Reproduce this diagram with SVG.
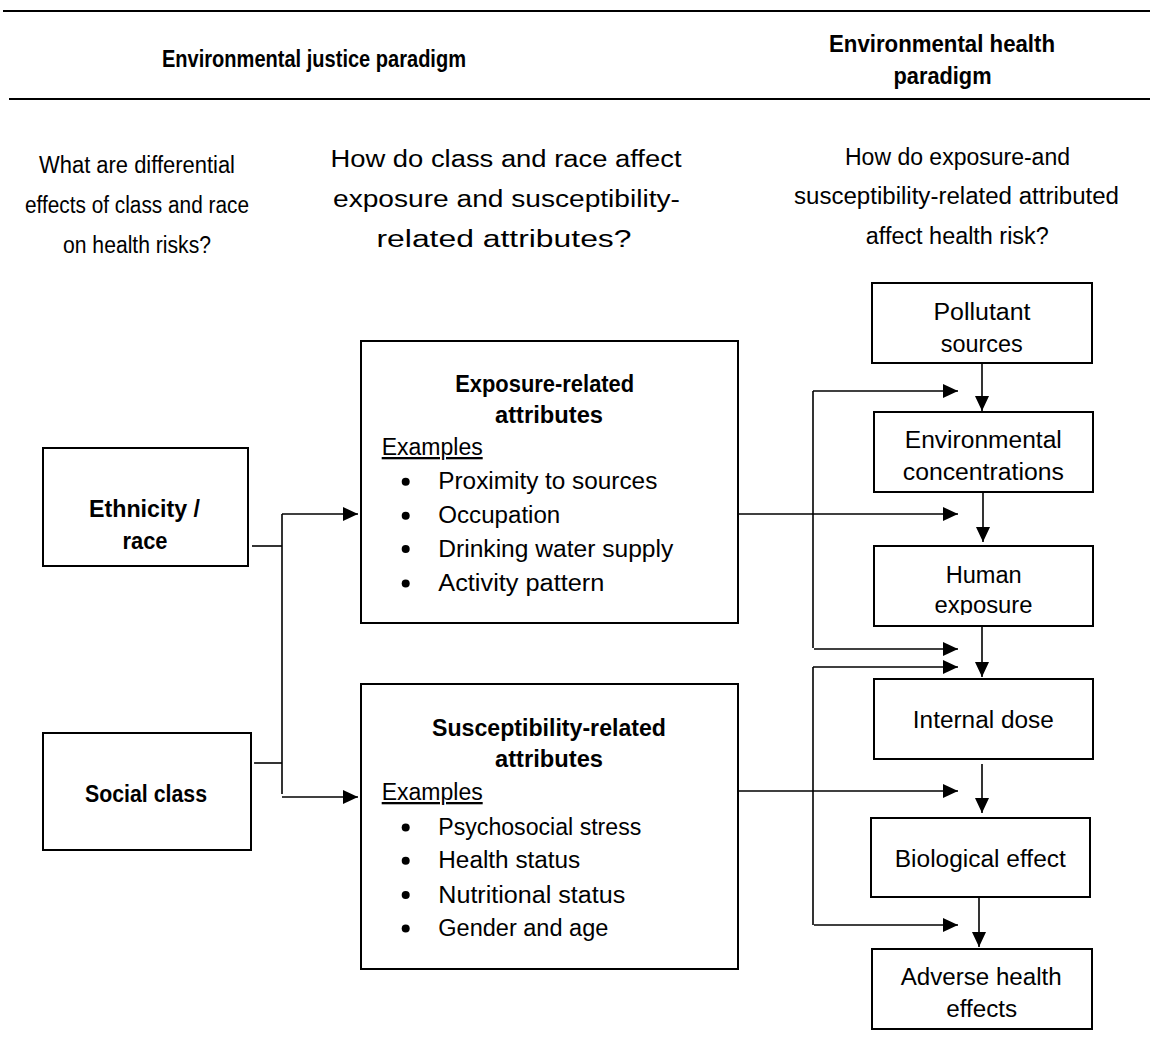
<svg xmlns="http://www.w3.org/2000/svg" width="1150" height="1063" viewBox="0 0 1150 1063">
<style>
  .t { font-family: "Liberation Sans", Arial, sans-serif; font-size: 23px; fill: #000; }
  .b { font-family: "Liberation Sans", Arial, sans-serif; font-size: 23px; font-weight: bold; fill: #000; }
  .m { text-anchor: middle; }
  .box { fill: #fff; stroke: #000; stroke-width: 2; }
  .rule { stroke: #000; stroke-width: 2; fill: none; }
  .c { stroke: #000; stroke-width: 1.6; fill: none; }
  .a { marker-end: url(#arr); }
  .u { text-decoration: underline; }
</style>
<defs>
  <marker id="arr" markerUnits="userSpaceOnUse" markerWidth="16" markerHeight="14" refX="15" refY="7" orient="auto">
    <path d="M0,0 L15,7 L0,14 z" fill="#000"/>
  </marker>
  <clipPath id="humanClip"><rect x="874" y="546" width="219" height="69"/></clipPath>
</defs>
<rect x="0" y="0" width="1150" height="1063" fill="#fff"/>

<g id="header">
  <line class="rule" x1="3" y1="11" x2="1150" y2="11"/>
  <line class="rule" x1="9" y1="99" x2="1150" y2="99"/>
  <text class="b m" x="314" y="67" textLength="304" lengthAdjust="spacingAndGlyphs">Environmental justice paradigm</text>
  <text class="b m" x="942" y="52" textLength="226" lengthAdjust="spacingAndGlyphs">Environmental health</text>
  <text class="b m" x="942.5" y="83.5" textLength="98" lengthAdjust="spacingAndGlyphs">paradigm</text>
</g>

<g id="questions">
  <text class="t m" x="137" y="173" textLength="196" lengthAdjust="spacingAndGlyphs">What are differential</text>
  <text class="t m" x="137" y="213" textLength="224" lengthAdjust="spacingAndGlyphs">effects of class and race</text>
  <text class="t m" x="137" y="253" textLength="148" lengthAdjust="spacingAndGlyphs">on health risks?</text>
  <text class="t m" x="506" y="167" textLength="351" lengthAdjust="spacingAndGlyphs">How do class and race affect</text>
  <text class="t m" x="506.5" y="207" textLength="347" lengthAdjust="spacingAndGlyphs">exposure and susceptibility-</text>
  <text class="t m" x="504" y="247" textLength="255" lengthAdjust="spacingAndGlyphs">related attributes?</text>
  <text class="t m" x="957.5" y="165" textLength="225" lengthAdjust="spacingAndGlyphs">How do exposure-and</text>
  <text class="t m" x="956.5" y="203.5" textLength="325" lengthAdjust="spacingAndGlyphs">susceptibility-related attributed</text>
  <text class="t m" x="957.3" y="243.5" textLength="183" lengthAdjust="spacingAndGlyphs">affect health risk?</text>
</g>

<g id="connectors">
  <path class="c" d="M252,546 H282"/>
  <path class="c" d="M254,763 H282"/>
  <path class="c" d="M282,514 V794"/>
  <path class="c a" d="M282,514 H358"/>
  <path class="c a" d="M282,797 H358"/>

  <path class="c" d="M813,391 V648"/>
  <path class="c a" d="M813,391 H958"/>
  <path class="c a" d="M739,514 H958"/>
  <path class="c a" d="M814,649 H958"/>
  <path class="c" d="M813,667 V925"/>
  <path class="c a" d="M813,667 H958"/>
  <path class="c a" d="M735,791 H958"/>
  <path class="c a" d="M814,925 H958"/>

  <path class="c a" d="M982,363 V411"/>
  <path class="c a" d="M983,493 V542"/>
  <path class="c a" d="M982,627 V677"/>
  <path class="c a" d="M982,764 V813"/>
  <path class="c a" d="M979,898 V947"/>
</g>

<g id="ethnicity">
  <rect class="box" x="43" y="448" width="205" height="118"/>
  <text class="b m" x="144.5" y="517" textLength="111" lengthAdjust="spacingAndGlyphs">Ethnicity /</text>
  <text class="b m" x="145" y="549" textLength="45" lengthAdjust="spacingAndGlyphs">race</text>
</g>

<g id="social-class">
  <rect class="box" x="43" y="733" width="208" height="117"/>
  <text class="b m" x="146" y="802" textLength="122" lengthAdjust="spacingAndGlyphs">Social class</text>
</g>

<g id="exposure-attributes">
  <rect class="box" x="361" y="341" width="377" height="282"/>
  <text class="b m" x="544.7" y="391.7" textLength="179" lengthAdjust="spacingAndGlyphs">Exposure-related</text>
  <text class="b m" x="549" y="423.3" textLength="108" lengthAdjust="spacingAndGlyphs">attributes</text>
  <text class="t u" x="381.7" y="455" textLength="101" lengthAdjust="spacingAndGlyphs">Examples</text>
  <circle cx="405.7" cy="481.7" r="4"/>
  <text class="t" x="438.3" y="489.3" textLength="219" lengthAdjust="spacingAndGlyphs">Proximity to sources</text>
  <circle cx="405.7" cy="515.7" r="4"/>
  <text class="t" x="438.3" y="523.3" textLength="122" lengthAdjust="spacingAndGlyphs">Occupation</text>
  <circle cx="405.7" cy="549" r="4"/>
  <text class="t" x="438.3" y="556.7" textLength="235" lengthAdjust="spacingAndGlyphs">Drinking water supply</text>
  <circle cx="405.7" cy="583.4" r="4"/>
  <text class="t" x="438.3" y="591" textLength="166" lengthAdjust="spacingAndGlyphs">Activity pattern</text>
</g>

<g id="susceptibility-attributes">
  <rect class="box" x="361" y="684" width="377" height="285"/>
  <text class="b m" x="549" y="736" textLength="234" lengthAdjust="spacingAndGlyphs">Susceptibility-related</text>
  <text class="b m" x="549" y="766.7" textLength="108" lengthAdjust="spacingAndGlyphs">attributes</text>
  <text class="t u" x="381.7" y="800" textLength="101" lengthAdjust="spacingAndGlyphs">Examples</text>
  <circle cx="405.7" cy="827.4" r="4"/>
  <text class="t" x="438.3" y="835" textLength="203" lengthAdjust="spacingAndGlyphs">Psychosocial stress</text>
  <circle cx="405.7" cy="860.7" r="4"/>
  <text class="t" x="438.3" y="868.3" textLength="142" lengthAdjust="spacingAndGlyphs">Health status</text>
  <circle cx="405.7" cy="895" r="4"/>
  <text class="t" x="438.3" y="902.7" textLength="187" lengthAdjust="spacingAndGlyphs">Nutritional status</text>
  <circle cx="405.7" cy="928.4" r="4"/>
  <text class="t" x="438.3" y="936" textLength="170" lengthAdjust="spacingAndGlyphs">Gender and age</text>
</g>

<g id="pollutant-sources">
  <rect class="box" x="872" y="283" width="220" height="80"/>
  <text class="t m" x="982" y="320" textLength="97" lengthAdjust="spacingAndGlyphs">Pollutant</text>
  <text class="t m" x="981.8" y="351.7" textLength="82" lengthAdjust="spacingAndGlyphs">sources</text>
</g>

<g id="environmental-concentrations">
  <rect class="box" x="874" y="412" width="219" height="80"/>
  <text class="t m" x="983.3" y="448.3" textLength="157" lengthAdjust="spacingAndGlyphs">Environmental</text>
  <text class="t m" x="983.3" y="480" textLength="161" lengthAdjust="spacingAndGlyphs">concentrations</text>
</g>

<g id="human-exposure">
  <rect class="box" x="874" y="546" width="219" height="80"/>
  <text class="t m" x="983.7" y="582.7" textLength="76" lengthAdjust="spacingAndGlyphs">Human</text>
  <text class="t m" x="983.5" y="613.3" textLength="98" lengthAdjust="spacingAndGlyphs" clip-path="url(#humanClip)">exposure</text>
</g>

<g id="internal-dose">
  <rect class="box" x="874" y="679" width="219" height="80"/>
  <text class="t m" x="983.3" y="728.3" textLength="141" lengthAdjust="spacingAndGlyphs">Internal dose</text>
</g>

<g id="biological-effect">
  <rect class="box" x="871" y="818" width="219" height="79"/>
  <text class="t m" x="980.3" y="866.7" textLength="171" lengthAdjust="spacingAndGlyphs">Biological effect</text>
</g>

<g id="adverse-health-effects">
  <rect class="box" x="872" y="949" width="220" height="80"/>
  <text class="t m" x="981.2" y="985" textLength="161" lengthAdjust="spacingAndGlyphs">Adverse health</text>
  <text class="t m" x="981.7" y="1017.3" textLength="71" lengthAdjust="spacingAndGlyphs">effects</text>
</g>
</svg>
